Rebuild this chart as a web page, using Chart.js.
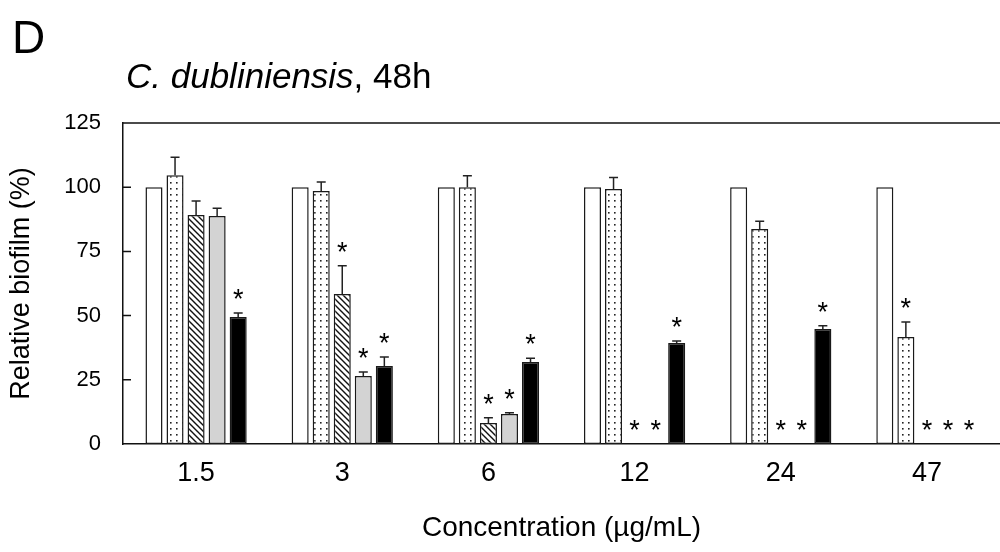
<!DOCTYPE html>
<html>
<head>
<meta charset="utf-8">
<script src="https://cdn.jsdelivr.net/npm/chart.js@4"></script>
<style>
  body { margin: 0; background: #fff; }
  #wrap { width: 1000px; height: 552px; }
</style>
</head>
<body>
<div id="wrap"><canvas id="chart" width="1000" height="552"></canvas></div>
<script>
// Data
const categories = ["1.5", "3", "6", "12", "24", "47"];

const controlValues = [100, 100, 100, 100, 100, 100];
const controlErr = [0, 0, 0, 0, 0, 0];
const controlSig = [0, 0, 0, 0, 0, 0];

const dottedValues = [104.7, 98.5, 100, 99.3, 83.7, 41.7];
const dottedErr = [7, 3.5, 4.5, 4.5, 3, 5.8];
const dottedSig = [0, 0, 0, 0, 0, 1];

const hatchedValues = [89.2, 58.4, 8.2, 0, 0, 0];
const hatchedErr = [5.4, 11, 2, 0, 0, 0];
const hatchedSig = [0, 1, 1, 1, 1, 1];

const grayValues = [88.8, 26.5, 11.7, 0, 0, 0];
const grayErr = [3, 1.5, 0.5, 0, 0, 0];
const graySig = [0, 1, 1, 1, 1, 1];

const blackValues = [49.5, 30.4, 31.9, 39.3, 44.8, 0];
const blackErr = [1.5, 3.5, 1.5, 0.8, 1.2, 0];
const blackSig = [1, 1, 1, 1, 1, 1];

const yTicks = [0, 25, 50, 75, 100, 125];

const FONT = "'Liberation Sans', Arial, sans-serif";

// pola titik
function dotPattern() {
  const c = document.createElement("canvas");
  c.width = 6; c.height = 6;
  const g = c.getContext("2d");
  g.fillStyle = "#fff";
  g.fillRect(0, 0, 6, 6);
  g.fillStyle = "#222";
  g.fillRect(2, 2, 1.6, 1.6);
  return g.createPattern(c, "repeat");
}

// pola garis miring
function hatchPattern() {
  const s = 6;
  const c = document.createElement("canvas");
  c.width = s; c.height = s;
  const g = c.getContext("2d");
  g.fillStyle = "#fff";
  g.fillRect(0, 0, s, s);
  g.strokeStyle = "#111";
  g.lineWidth = 1.4;
  g.beginPath();
  g.moveTo(-1, -1); g.lineTo(s + 1, s + 1);
  g.moveTo(-1, s - 1); g.lineTo(1, s + 1);
  g.moveTo(s - 1, -1); g.lineTo(s + 1, 1);
  g.stroke();
  return g.createPattern(c, "repeat");
}

const errors = [controlErr, dottedErr, hatchedErr, grayErr, blackErr];
const sigs = [controlSig, dottedSig, hatchedSig, graySig, blackSig];

// error bar + bintang
const errorBarPlugin = {
  id: "errorBars",
  afterDatasetsDraw(chart) {
    const ctx = chart.ctx;
    const y = chart.scales.y;
    ctx.save();
    chart.data.datasets.forEach((ds, di) => {
      const meta = chart.getDatasetMeta(di);
      meta.data.forEach((bar, i) => {
        const v = ds.data[i];
        const e = errors[di][i];
        let top = y.getPixelForValue(v);
        if (e > 0) {
          top = y.getPixelForValue(v + e);
          ctx.strokeStyle = "#222";
          ctx.lineWidth = 1.5;
          ctx.beginPath();
          ctx.moveTo(bar.x, bar.y);
          ctx.lineTo(bar.x, top);
          ctx.moveTo(bar.x - 4.5, top);
          ctx.lineTo(bar.x + 4.5, top);
          ctx.stroke();
        }
        if (sigs[di][i]) {
          ctx.fillStyle = "#000";
          ctx.font = "27px " + FONT;
          ctx.textAlign = "center";
          ctx.textBaseline = "alphabetic";
          ctx.fillText("*", bar.x, top - 5);
        }
      });
    });
    ctx.restore();
  }
};

// garis atas, tick ke dalam, judul
const framePlugin = {
  id: "frame",
  afterDraw(chart) {
    const ctx = chart.ctx;
    const a = chart.chartArea;
    const y = chart.scales.y;
    ctx.save();
    ctx.strokeStyle = "#111";
    ctx.lineWidth = 1.5;
    ctx.beginPath();
    ctx.moveTo(a.left, a.top);
    ctx.lineTo(chart.width, a.top);
    yTicks.slice(1, -1).forEach((t) => {
      const py = y.getPixelForValue(t);
      ctx.moveTo(a.left, py);
      ctx.lineTo(a.left + 8, py);
    });
    ctx.stroke();

    ctx.fillStyle = "#000";
    ctx.textAlign = "left";
    ctx.textBaseline = "alphabetic";
    ctx.font = "46px " + FONT;
    ctx.fillText("D", 12, 53);
    ctx.font = "italic 35px " + FONT;
    const part1 = "C. dubliniensis";
    ctx.fillText(part1, 126, 88);
    const w = ctx.measureText(part1).width;
    ctx.font = "35px " + FONT;
    ctx.fillText(", 48h", 126 + w, 88);
    ctx.restore();
  }
};

const barOpts = { borderColor: "#1a1a1a", borderWidth: 1.5, borderSkipped: false };

new Chart(document.getElementById("chart"), {
  type: "bar",
  data: {
    labels: categories,
    datasets: [
      { label: "control", data: controlValues, backgroundColor: "#fff", ...barOpts },
      { label: "dotted", data: dottedValues, backgroundColor: dotPattern(), ...barOpts },
      { label: "hatched", data: hatchedValues, backgroundColor: hatchPattern(), ...barOpts },
      { label: "gray", data: grayValues, backgroundColor: "#d3d3d3", ...barOpts },
      { label: "black", data: blackValues, backgroundColor: "#000", ...barOpts },
    ],
  },
  options: {
    responsive: false,
    animation: false,
    categoryPercentage: 0.72,
    barPercentage: 0.81,
    layout: { padding: { top: 123, right: -6, left: 0, bottom: 0 } },
    plugins: {
      legend: { display: false },
      tooltip: { enabled: false },
    },
    scales: {
      x: {
        grid: { display: false, drawTicks: false },
        border: { display: true, color: "#111", width: 1.5 },
        ticks: { color: "#000", font: { family: FONT, size: 27 }, padding: 13 },
        title: {
          display: true,
          text: "Concentration (µg/mL)",
          color: "#000",
          font: { family: FONT, size: 28 },
          padding: { top: 0, bottom: 7 },
        },
        afterFit(scale) { scale.height = 108; },
      },
      y: {
        min: 0,
        max: 125,
        grid: { display: false, drawTicks: false },
        border: { display: true, color: "#111", width: 1.5 },
        ticks: { stepSize: 25, color: "#000", font: { family: FONT, size: 22 }, padding: 22 },
        title: {
          display: true,
          text: "Relative biofilm (%)",
          color: "#000",
          font: { family: FONT, size: 27 },
          padding: { top: 5, bottom: 0 },
        },
        afterFit(scale) { scale.width = 123; },
      },
    },
  },
  plugins: [errorBarPlugin, framePlugin],
});
</script>
</body>
</html>
